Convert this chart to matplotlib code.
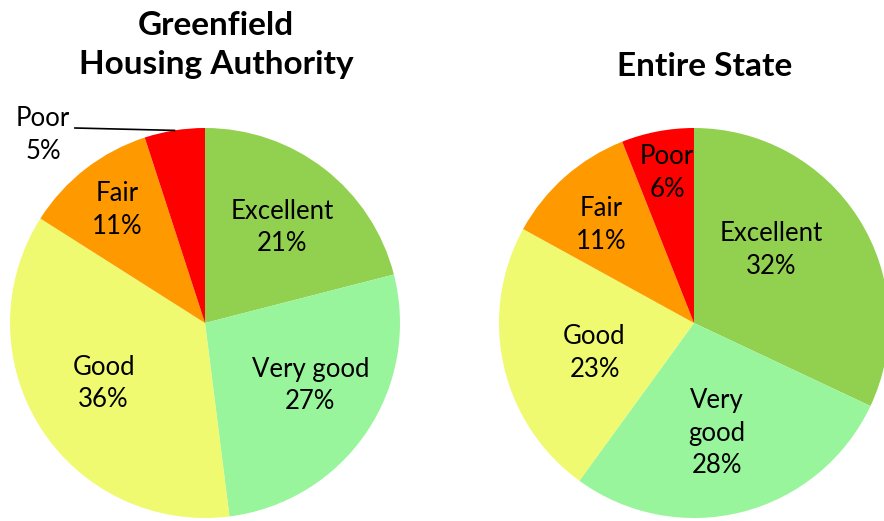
import numpy as np
import matplotlib.pyplot as plt

plt.rcParams['font.family'] = ['Lato', 'DejaVu Sans']

# 数据
categories = ['Excellent', 'Very good', 'Good', 'Fair', 'Poor']
colors = ['#92D050', '#99F59B', '#F0FA70', '#FF9900', '#FF0000']
greenfield = [21, 27, 36, 11, 5]
state = [32, 28, 23, 11, 6]
greenfield_labels = ['Excellent', 'Very good', 'Good', 'Fair', 'Poor']
state_labels = ['Excellent', 'Very\ngood', 'Good', 'Fair', 'Poor']

# 标签位置（数据坐标，半径=1）
greenfield_pos = [(0.395, 0.49), (0.54, -0.32), (-0.52, -0.31), (-0.45, 0.58), (-0.83, 0.965)]
state_pos = [(0.395, 0.375), (0.118, -0.565), (-0.51, -0.155), (-0.477, 0.503), (-0.138, 0.77)]

W, H = 884, 521
fig = plt.figure(figsize=(W / 100, H / 100), dpi=100)

R = 195


def draw_pie(cx, cy, values, labels, pos, title, title_xy):
    ax = fig.add_axes([(cx - R) / W, (H - cy - R) / H, 2 * R / W, 2 * R / H])
    wedges, _ = ax.pie(values, colors=colors, startangle=90, counterclock=False,
                       radius=1, wedgeprops=dict(linewidth=0))
    ax.set_xlim(-1, 1)
    ax.set_ylim(-1, 1)
    ax.set_aspect('equal')
    ax.axis('off')
    for lab, v, (x, y) in zip(labels, values, pos):
        ax.text(x, y, f'{lab}\n{v}%', ha='center', va='center', fontsize=18.5,
                linespacing=1.38, clip_on=False)
    fig.text(title_xy[0] / W, 1 - title_xy[1] / H, title, ha='center', va='center',
             fontsize=24, fontweight='bold', linespacing=1.38)
    return ax, wedges


ax1, w1 = draw_pie(205, 323, greenfield, greenfield_labels, greenfield_pos,
                   'Greenfield\nHousing Authority', (216, 45))
# Poor 的引导线
poor = w1[-1]
mid = np.deg2rad((poor.theta1 + poor.theta2) / 2)
ax1.plot([-0.667, np.cos(mid)], [1.0, np.sin(mid)], color='black', lw=1.2, clip_on=False)

draw_pie(694, 323, state, state_labels, state_pos, 'Entire State', (705, 67))

fig.savefig('out.png', dpi=100)
